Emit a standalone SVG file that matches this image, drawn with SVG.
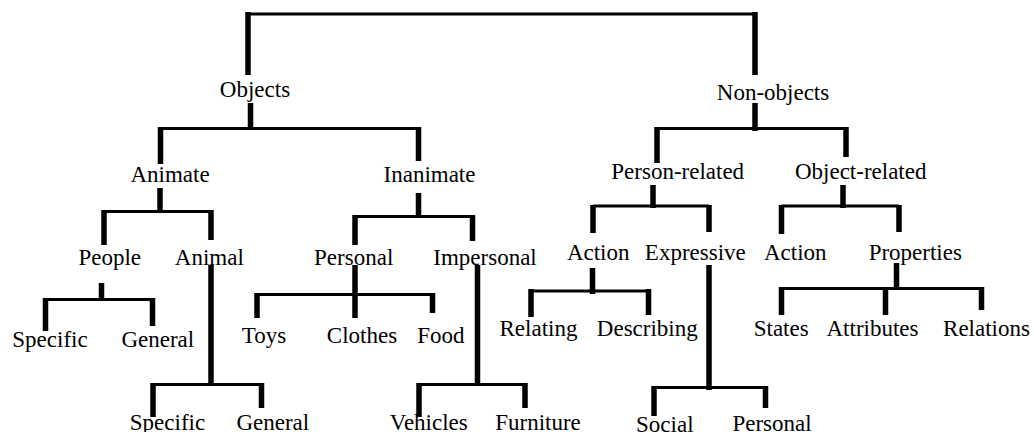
<svg xmlns="http://www.w3.org/2000/svg" width="1034" height="432" viewBox="0 0 1034 432">
<style>
.t text{font-size:23px;fill:#000;text-anchor:middle}
.v{stroke:#000;stroke-width:5.5;fill:none}
.h{stroke:#000;stroke-width:3.2;fill:none}
</style>
<rect width="1034" height="432" fill="#fff"/>
<g id="connectors">
<path class="h" d="M248 14H755"/>
<path class="v" d="M248 12V75M755 12V75"/>
<path class="v" d="M250.5 103V130M160.5 127V164M418.5 127V161"/>
<path class="h" d="M160 128.5H420"/>
<path class="v" d="M160 188V213M104 210V245M211 210V240"/>
<path class="h" d="M104 211.5H211"/>
<path class="v" d="M101.5 283V301M45.5 298V331M152.5 298V326"/>
<path class="h" d="M45 299.5H153"/>
<path class="v" d="M211 265V386M153 383V417M261.5 383V408"/>
<path class="h" d="M153 384.5H262"/>
<path class="v" d="M418.5 193V218M355 215V245M472.5 215V241"/>
<path class="h" d="M355 216.5H472.5"/>
<path class="v" d="M355 265V318M257 293V318M432.5 293V313"/>
<path class="h" d="M257 294.5H432.5"/>
<path class="v" d="M477.5 265V386M419 383V417M525 383V408"/>
<path class="h" d="M419 384.5H525"/>
<path class="v" d="M755 103V131M657 127V163M846 127V157"/>
<path class="h" d="M657 128.5H846"/>
<path class="v" d="M653 185V208M593 205V233M709 205V232"/>
<path class="h" d="M593 206H709"/>
<path class="v" d="M843 185V208M781.5 205V234M899 205V232"/>
<path class="h" d="M781.5 206H899"/>
<path class="v" d="M592.5 268V294M531 289V317M648.5 289V315"/>
<path class="h" d="M531 291H648.5"/>
<path class="v" d="M709 265V390M654 386V416M765.5 386V408"/>
<path class="h" d="M654 387.5H765.5"/>
<path class="v" d="M896.5 263V289M781.5 287V315M885.5 287V315M981.5 287V310"/>
<path class="h" d="M781.5 288.5H981.5"/>
</g>
<g class="t" font-family="Liberation Serif, Times New Roman, serif">
<g id="objects"><text x="255" y="97">Objects</text></g>
<g id="non-objects"><text x="773" y="100">Non-objects</text></g>
<g id="animate"><text x="170" y="182">Animate</text></g>
<g id="inanimate"><text x="429.5" y="182">Inanimate</text></g>
<g id="person-related"><text x="677.7" y="179">Person-related</text></g>
<g id="object-related"><text x="860.7" y="179">Object-related</text></g>
<g id="people"><text x="109.7" y="265">People</text></g>
<g id="animal"><text x="209.3" y="265">Animal</text></g>
<g id="personal"><text x="353.7" y="265">Personal</text></g>
<g id="impersonal"><text x="485" y="265">Impersonal</text></g>
<g id="action-person"><text x="598.2" y="260">Action</text></g>
<g id="expressive"><text x="695.3" y="260">Expressive</text></g>
<g id="action-object"><text x="795.3" y="260">Action</text></g>
<g id="properties"><text x="915.3" y="260">Properties</text></g>
<g id="people-specific"><text x="50" y="347">Specific</text></g>
<g id="people-general"><text x="157.8" y="347">General</text></g>
<g id="toys"><text x="264" y="342.7">Toys</text></g>
<g id="clothes"><text x="362" y="342.7">Clothes</text></g>
<g id="food"><text x="440.8" y="342.7">Food</text></g>
<g id="relating"><text x="538.5" y="336">Relating</text></g>
<g id="describing"><text x="647.3" y="336">Describing</text></g>
<g id="states"><text x="781.2" y="336">States</text></g>
<g id="attributes"><text x="872.5" y="336">Attributes</text></g>
<g id="relations"><text x="986.5" y="336">Relations</text></g>
<g id="animal-specific"><text x="167.5" y="430">Specific</text></g>
<g id="animal-general"><text x="272.8" y="430">General</text></g>
<g id="vehicles"><text x="428.8" y="430">Vehicles</text></g>
<g id="furniture"><text x="538" y="430">Furniture</text></g>
<g id="social"><text x="664.8" y="432">Social</text></g>
<g id="expressive-personal"><text x="772" y="431">Personal</text></g>
</g>
</svg>
